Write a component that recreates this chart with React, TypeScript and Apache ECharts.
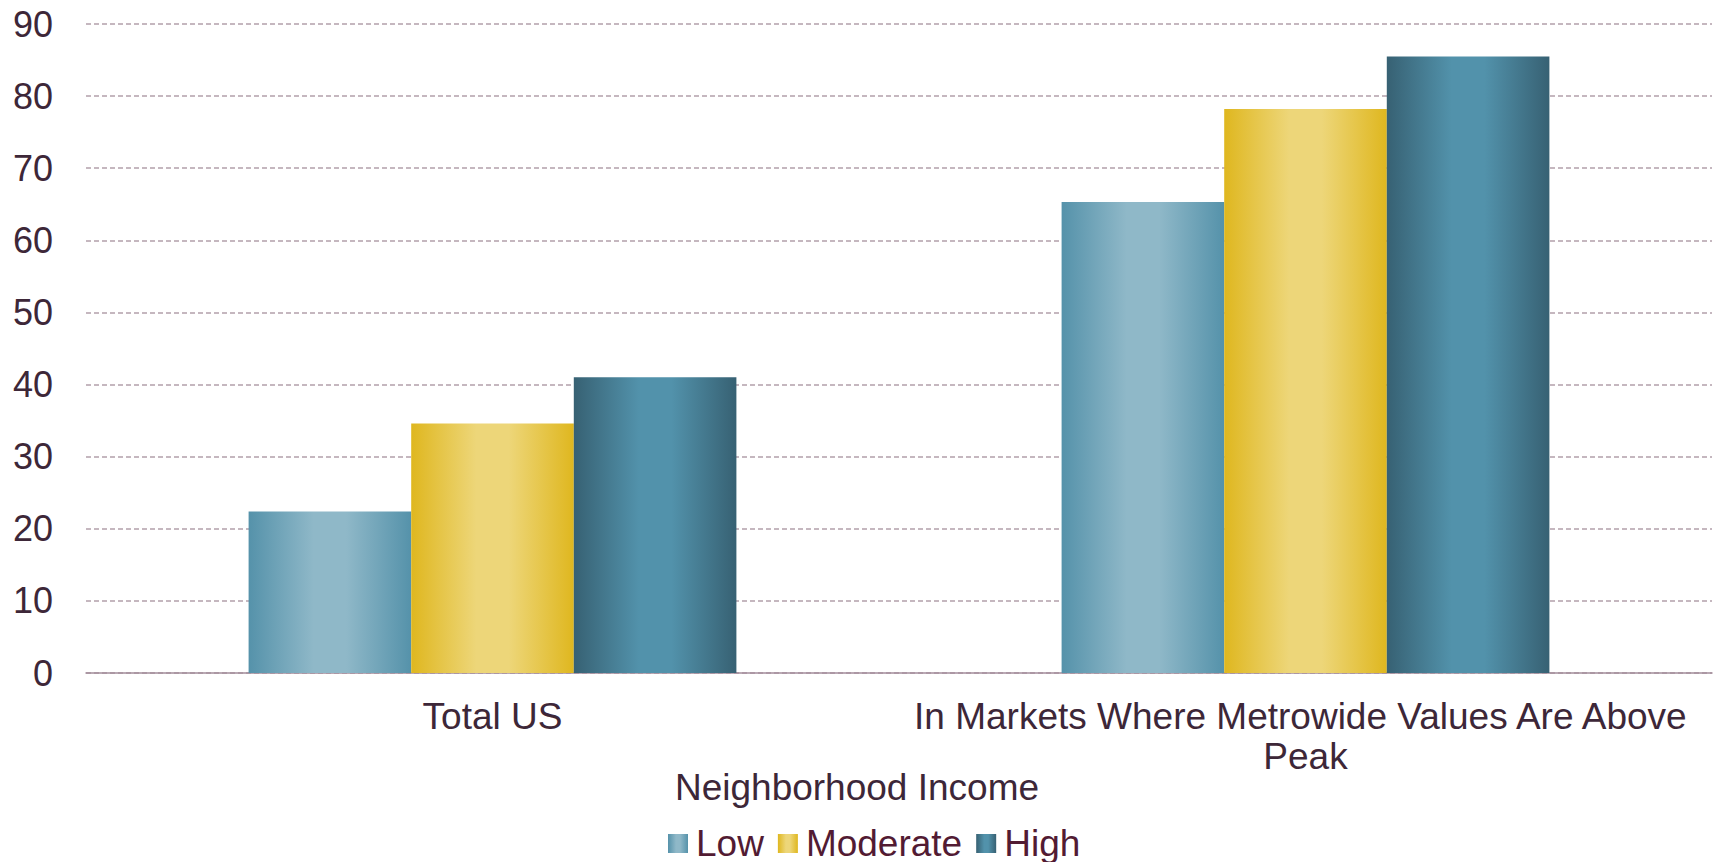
import React, { useEffect, useRef } from "react";
import * as echarts from "echarts";

const categories = ["Total US", "In Markets Where Metrowide Values Are Above Peak"];
const seriesNames = ["Low", "Moderate", "High"];
const lowValues = [22.4, 65.3];
const moderateValues = [34.6, 78.2];
const highValues = [41.0, 85.5];
const legendTitle = "Neighborhood Income";

const FONT = "'Liberation Sans', Arial, sans-serif";
const AXIS_TEXT = "#3d2738";
const LEGEND_TEXT = "#521b33";

function grad(edge: string, mid: string) {
  return new echarts.graphic.LinearGradient(0, 0, 1, 0, [
    { offset: 0, color: edge },
    { offset: 0.4, color: mid },
    { offset: 0.6, color: mid },
    { offset: 1, color: edge },
  ]);
}

export default function App() {
  const ref = useRef<HTMLDivElement>(null);
  useEffect(() => {
    if (!ref.current) return;
    const chart = echarts.init(ref.current, undefined, { renderer: "svg" });
    const colors = [
      grad("#5592aa", "#8fb8c8"),
      grad("#dfb71f", "#edd679"),
      grad("#376173", "#5292ab"),
    ];
    const data = [lowValues, moderateValues, highValues];
    chart.setOption({
      animation: false,
      backgroundColor: "#ffffff",
      textStyle: { fontFamily: FONT },
      grid: { left: 86, right: 2, top: 24, bottom: 189, containLabel: false },
      title: {
        text: legendTitle,
        left: "center",
        top: 764,
        textStyle: { fontFamily: FONT, fontSize: 37, fontWeight: "normal", color: AXIS_TEXT },
      },
      legend: {
        data: seriesNames,
        left: 663,
        top: 820,
        itemWidth: 20,
        itemHeight: 19,
        itemGap: 14,
        icon: "rect",
        textStyle: { fontFamily: FONT, fontSize: 37, color: LEGEND_TEXT, padding: [0, 0, 0, 3] },
      },
      xAxis: {
        type: "category",
        data: categories,
        axisTick: { show: false },
        axisLine: { lineStyle: { color: "#a38d9b", width: 1.5 } },
        axisLabel: {
          fontFamily: FONT,
          fontSize: 37,
          color: AXIS_TEXT,
          margin: 23,
          lineHeight: 40,
          width: 800,
          overflow: "break",
          interval: 0,
        },
      },
      yAxis: {
        type: "value",
        min: 0,
        max: 90,
        interval: 10,
        axisLine: { show: false },
        axisTick: { show: false },
        axisLabel: { fontFamily: FONT, fontSize: 36, color: AXIS_TEXT, margin: 33 },
        splitLine: { lineStyle: { color: "#b3a0ab", width: 1.5, type: [5, 3] } },
      },
      series: seriesNames.map((name, i) => ({
        name,
        type: "bar",
        data: data[i],
        barGap: "0%",
        barCategoryGap: "40%",
        itemStyle: { color: colors[i] },
      })),
    });
    return () => chart.dispose();
  }, []);
  return (
    <div
      ref={ref}
      style={{ position: "absolute", left: 0, top: 0, width: 1714, height: 862 }}
    />
  );
}
